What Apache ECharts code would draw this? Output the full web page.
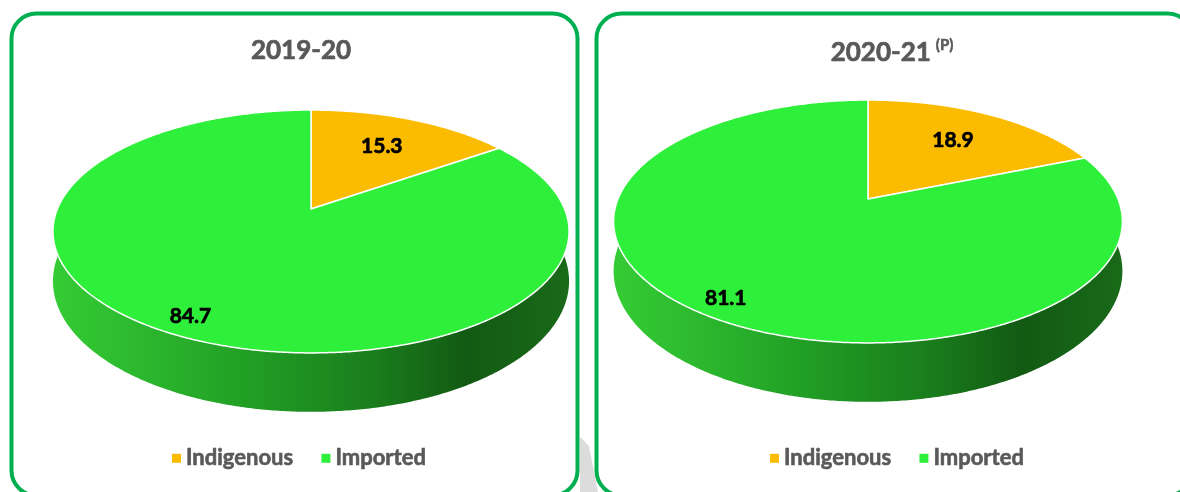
<!DOCTYPE html>
<html>
<head>
<meta charset="utf-8">
<script src="https://cdn.jsdelivr.net/npm/echarts@6/dist/echarts.min.js"></script>
<style>
  html, body { margin: 0; padding: 0; background: #ffffff; }
  #chart { width: 1180px; height: 492px; }
</style>
</head>
<body>
<div id="chart"></div>
<script>
// ---- data ----
const categories = ['Indigenous', 'Imported'];
const years = ['2019-20', '2020-21'];
const yearNotes = ['', '(P)'];
const share2019 = [15.3, 84.7];
const share2020 = [18.9, 81.1];
const panelValues = [share2019, share2020];

// ---- styles / geometry ----
const FONT = 'Lato, "Open Sans", sans-serif';
const WEIGHT = 'bold';
const GREY = '#595959';
const sliceColors = ['#FBBC00', '#2EEF3A'];
const wallStops = [
  { offset: 0, color: '#35CC35' },
  { offset: 0.35, color: '#22A226' },
  { offset: 0.62, color: '#1A7D1C' },
  { offset: 0.8, color: '#125A13' },
  { offset: 1, color: '#196A19' }
];
const pies = [
  { cx: 311, cy: 209, a: 253.6 },
  { cx: 868, cy: 199, a: 250 }
];
const B = 117.3, K = 0.185, H = 48;
const labelRadius = [0.67, 0.88];

function proj(p, r, phi, depth) {
  const u = r * Math.sin(phi), v = -r * Math.cos(phi);
  const d = 1 - K * v;
  return [p.cx + p.a * u / d, p.cy + (B * v + depth) / d];
}

function makeRender(panel, cat) {
  return function (params, api) {
    const vals = panelValues[panel];
    const total = vals.reduce((s, x) => s + x, 0);
    let before = 0;
    for (let i = 0; i < cat; i++) before += vals[i];
    const value = api.value(0);
    const a0 = before / total * Math.PI * 2;
    const a1 = (before + value) / total * Math.PI * 2;
    const p = pies[panel];
    const n = Math.max(2, Math.ceil((a1 - a0) / (Math.PI / 360)));
    const topArc = [], botArc = [];
    for (let i = 0; i <= n; i++) {
      const phi = a0 + (a1 - a0) * i / n;
      topArc.push(proj(p, 1, phi, 0));
      botArc.push(proj(p, 1, phi, H));
    }
    const wall = topArc.concat(botArc.slice().reverse());
    const top = [proj(p, 0, 0, 0)].concat(topArc);
    const mid = (a0 + a1) / 2;
    const lp = proj(p, labelRadius[cat], mid, 0);
    const left = p.cx - p.a * 1.02, right = p.cx + p.a * 1.02;
    return {
      type: 'group',
      children: [
        {
          type: 'polygon', z2: 1,
          shape: { points: wall },
          style: {
            fill: cat === 0 ? '#C99500' : {
              type: 'linear', x: left, y: 0, x2: right, y2: 0, global: true,
              colorStops: wallStops
            },
            stroke: null
          }
        },
        {
          type: 'polygon', z2: 2,
          shape: { points: top },
          style: { fill: sliceColors[cat], stroke: '#ffffff', lineWidth: 1.5, lineJoin: 'round' }
        },
        {
          type: 'text', z2: 3,
          x: lp[0], y: lp[1],
          style: {
            text: value.toFixed(1), fill: '#000000',
            stroke: '#000000', lineWidth: 0.7,
            fontSize: 21, fontWeight: WEIGHT, fontFamily: FONT,
            align: 'center', verticalAlign: 'middle'
          }
        }
      ]
    };
  };
}

const series = [];
for (let p = 0; p < panelValues.length; p++) {
  for (let c = 0; c < categories.length; c++) {
    series.push({
      type: 'custom',
      name: categories[c],
      coordinateSystem: 'none',
      itemStyle: { color: sliceColors[c] },
      silent: true,
      data: [[panelValues[p][c]]],
      renderItem: makeRender(p, c)
    });
  }
}

const legendText = {
  fontSize: 22, fontWeight: WEIGHT, color: GREY, fontFamily: FONT,
  textBorderColor: GREY, textBorderWidth: 0.6
};
const titleText = {
  fontSize: 26, fontWeight: WEIGHT, color: GREY, fontFamily: FONT,
  textBorderColor: GREY, textBorderWidth: 0.7
};

const chart = echarts.init(document.getElementById('chart'), null, { renderer: 'canvas' });
chart.setOption({
  animation: false,
  backgroundColor: '#ffffff',
  title: [
    {
      text: years[0], left: 296, top: 33, textAlign: 'center',
      textStyle: titleText
    },
    {
      text: '{a|' + years[1] + '} {s|' + yearNotes[1] + '}', left: 887, top: 33, textAlign: 'center',
      textStyle: {
        rich: {
          a: Object.assign({}, titleText, { lineHeight: 30 }),
          s: { fontSize: 15, fontWeight: WEIGHT, color: GREY, fontFamily: FONT, lineHeight: 18,
               verticalAlign: 'top', textBorderColor: GREY, textBorderWidth: 0.5 }
        }
      }
    }
  ],
  legend: [
    {
      data: categories, left: 167, top: 442, icon: 'rect', itemWidth: 9, itemHeight: 9, itemGap: 28,
      selectedMode: false, textStyle: legendText
    },
    {
      data: categories, left: 765, top: 442, icon: 'rect', itemWidth: 9, itemHeight: 9, itemGap: 28,
      selectedMode: false, textStyle: legendText
    }
  ],
  graphic: [
    {
      type: 'polygon', z: -1, silent: true,
      shape: { points: [[580, 437], [589, 446], [598, 492], [580, 492]] },
      style: { fill: '#DCDCDC' }
    },
    {
      type: 'rect', silent: true, z: 10,
      shape: { x: 11.5, y: 13.5, width: 566, height: 482, r: 25 },
      style: { fill: null, stroke: '#00B050', lineWidth: 4 }
    },
    {
      type: 'rect', silent: true, z: 10,
      shape: { x: 596.5, y: 13.5, width: 596, height: 482, r: 25 },
      style: { fill: null, stroke: '#00B050', lineWidth: 4 }
    }
  ],
  series: series
});
</script>
</body>
</html>
